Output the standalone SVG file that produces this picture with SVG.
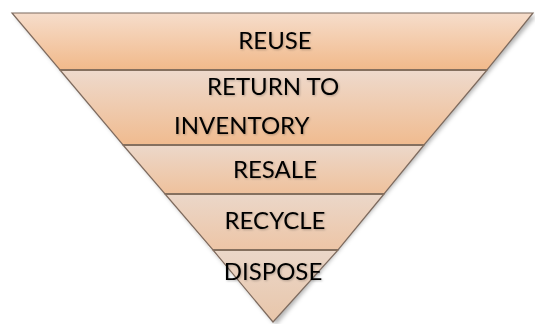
<svg xmlns="http://www.w3.org/2000/svg" width="535" height="324" viewBox="0 0 535 324">
<style>
.band{stroke:#7d6a5e;stroke-width:1.2;stroke-linejoin:miter}
.lbl{font-family:Lato,"Open Sans","Liberation Sans",sans-serif;font-size:24px;fill:#000}
.div{stroke:#85705f;stroke-width:2.2}
</style>
<defs>
<linearGradient id="g1" x1="0" y1="0" x2="0" y2="1"><stop offset="0" stop-color="#f6ddcb"/><stop offset="1" stop-color="#f1b98a"/></linearGradient>
<linearGradient id="g2" x1="0" y1="0" x2="0" y2="1"><stop offset="0" stop-color="#eedacd"/><stop offset="1" stop-color="#f0bb8f"/></linearGradient>
<linearGradient id="g3" x1="0" y1="0" x2="0" y2="1"><stop offset="0" stop-color="#ecd8ca"/><stop offset="1" stop-color="#efc19c"/></linearGradient>
<linearGradient id="g4" x1="0" y1="0" x2="0" y2="1"><stop offset="0" stop-color="#ebd7c9"/><stop offset="1" stop-color="#edc5a6"/></linearGradient>
<linearGradient id="g5" x1="0" y1="0" x2="0" y2="1"><stop offset="0" stop-color="#ebd7c9"/><stop offset="1" stop-color="#e8c6aa"/></linearGradient>
<filter id="sh" x="-10%" y="-10%" width="120%" height="120%"><feDropShadow dx="3" dy="3" stdDeviation="2" flood-color="#000" flood-opacity="0.3"/></filter>
<filter id="ts" x="-10%" y="-20%" width="120%" height="140%"><feDropShadow dx="1" dy="1" stdDeviation="1" flood-color="#000" flood-opacity="0.25"/></filter>
</defs>
<g filter="url(#sh)">
<polygon points="12,13 533,13 273,322" fill="#eed8ca"/>
</g>
<g id="reuse">
<polygon class="band" points="12,13 533,13 487,70 60,70" fill="url(#g1)"/>
<text class="lbl" x="275" y="49" text-anchor="middle" filter="url(#ts)">REUSE</text>
</g>
<g id="return-to-inventory">
<polygon class="band" points="60,70 487,70 424,145 123,145" fill="url(#g2)"/>
<text class="lbl" x="207" y="95" filter="url(#ts)">RETURN TO</text>
<text class="lbl" x="174" y="134" filter="url(#ts)">INVENTORY</text>
</g>
<g id="resale">
<polygon class="band" points="123,145 424,145 384,194 165,194" fill="url(#g3)"/>
<text class="lbl" x="275" y="178" text-anchor="middle" filter="url(#ts)">RESALE</text>
</g>
<g id="recycle">
<polygon class="band" points="165,194 384,194 338,250 213,250" fill="url(#g4)"/>
<text class="lbl" x="275" y="229" text-anchor="middle" filter="url(#ts)">RECYCLE</text>
</g>
<g id="dispose">
<polygon class="band" points="213,250 338,250 273,322" fill="url(#g5)"/>
<text class="lbl" x="273" y="280" text-anchor="middle" filter="url(#ts)">DISPOSE</text>
</g>
<g id="connectors">
<line class="div" x1="60" y1="70" x2="487" y2="70"/>
<line class="div" x1="123" y1="145" x2="424" y2="145"/>
<line class="div" x1="165" y1="194" x2="384" y2="194"/>
<line class="div" x1="213" y1="250" x2="338" y2="250"/>
</g>
</svg>
